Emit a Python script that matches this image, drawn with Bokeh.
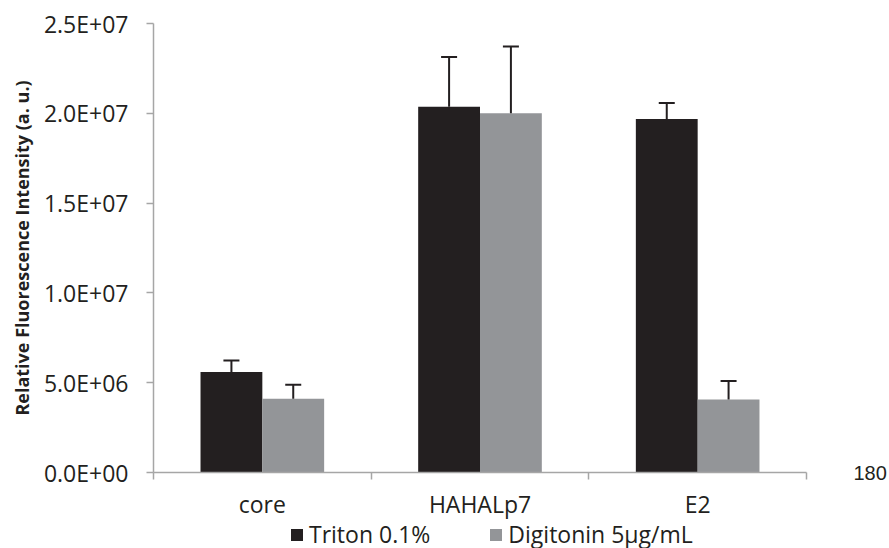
from bokeh.embed import file_html
from bokeh.layouts import column
from bokeh.models import (ColumnDataSource, CustomJSTickFormatter, FixedTicker,
                          Legend, LegendItem, LinearAxis, Range1d,
                          TeeHead, Whisker)
from bokeh.plotting import figure
from bokeh.resources import INLINE
from bokeh.transform import dodge

# ---- data -------------------------------------------------------------
categories = ["core", "HAHALp7", "E2"]
series_names = ["Triton 0.1%", "Digitonin 5\u00b5g/mL"]
triton = [5.59e6, 20.37e6, 19.68e6]
triton_err = [0.65e6, 2.76e6, 0.89e6]
digitonin = [4.11e6, 20.0e6, 4.06e6]
digitonin_err = [0.78e6, 3.72e6, 1.03e6]
y_ticks = [0, 5e6, 10e6, 15e6, 20e6, 25e6]
side_note = {0: "180"}

# ---- style ------------------------------------------------------------
FONT = "Open Sans"
DARK = "#231f20"
GREY = "#939598"
AXIS = "#a6a6a6"
BAR_W = 0.284

# each category occupies one unit on the x axis; its centre is at i + 0.5
n = len(categories)
centres = [i + 0.5 for i in range(n)]
edges = list(range(n + 1))

src = ColumnDataSource(dict(
    xc=centres,
    cat=categories,
    triton=triton,
    triton_top=[v + e for v, e in zip(triton, triton_err)],
    digitonin=digitonin,
    digitonin_top=[v + e for v, e in zip(digitonin, digitonin_err)],
))

p = figure(
    width=889, height=522,
    x_range=Range1d(0, n),
    y_range=Range1d(0, 2.5e7),
    x_axis_location=None, y_axis_location=None,
    output_backend="svg", toolbar_location=None,
    min_border_left=153, min_border_right=81,
    min_border_top=23, min_border_bottom=50,
)
p.outline_line_color = None
p.xgrid.grid_line_color = None
p.ygrid.grid_line_color = None
p.background_fill_color = "white"
p.border_fill_color = "white"

# ---- y axis -----------------------------------------------------------
yaxis = LinearAxis(
    ticker=FixedTicker(ticks=y_ticks),
    formatter=CustomJSTickFormatter(code="""
        const s = tick.toExponential(1).toUpperCase();
        return s.replace(/E([+-])(\\d)$/, 'E$10$2');
    """),
    axis_label="Relative Fluorescence Intensity (a. u.)",
)
yaxis.axis_line_color = AXIS
yaxis.axis_line_width = 1.5
yaxis.major_tick_line_color = AXIS
yaxis.major_tick_line_width = 1.5
yaxis.major_tick_out = 7
yaxis.major_tick_in = 0
yaxis.minor_tick_line_color = None
yaxis.major_label_standoff = 18
yaxis.major_label_text_font = FONT
yaxis.major_label_text_font_size = "23px"
yaxis.major_label_text_color = DARK
yaxis.axis_label_standoff = 7
yaxis.axis_label_text_font = FONT
yaxis.axis_label_text_font_size = "18px"
yaxis.axis_label_text_font_style = "bold"
yaxis.axis_label_text_color = DARK
p.add_layout(yaxis, "left")

# side note level with the x axis, on the right
note_axis = LinearAxis(ticker=FixedTicker(ticks=list(side_note)),
                       major_label_overrides=side_note)
note_axis.axis_line_color = None
note_axis.major_tick_line_color = None
note_axis.minor_tick_line_color = None
note_axis.major_label_standoff = 41
note_axis.major_label_text_font = "Liberation Sans"
note_axis.major_label_text_font_size = "20px"
note_axis.major_label_text_color = DARK
p.add_layout(note_axis, "right")

# ---- x axis: boundary ticks, then category labels ----------------------
edge_axis = LinearAxis(ticker=FixedTicker(ticks=edges))
edge_axis.axis_line_color = AXIS
edge_axis.axis_line_width = 1.5
edge_axis.major_tick_line_color = AXIS
edge_axis.major_tick_line_width = 1.5
edge_axis.major_tick_out = 7
edge_axis.major_tick_in = 0
edge_axis.minor_tick_line_color = None
edge_axis.major_label_text_font_size = "0px"
edge_axis.major_label_standoff = 0
p.add_layout(edge_axis, "below")

cat_axis = LinearAxis(
    ticker=FixedTicker(ticks=centres),
    major_label_overrides={c: name for c, name in zip(centres, categories)},
)
cat_axis.axis_line_color = None
cat_axis.major_tick_line_color = None
cat_axis.minor_tick_line_color = None
cat_axis.major_label_standoff = 2
cat_axis.major_label_text_font = FONT
cat_axis.major_label_text_font_size = "23px"
cat_axis.major_label_text_color = DARK
p.add_layout(cat_axis, "below")

# ---- bars -------------------------------------------------------------
p.vbar(x=dodge("xc", -BAR_W / 2), top="triton",
       width=BAR_W, source=src, fill_color=DARK, line_color=None)
p.vbar(x=dodge("xc", BAR_W / 2), top="digitonin",
       width=BAR_W, source=src, fill_color=GREY, line_color=None)

# ---- upper error bars --------------------------------------------------
for offset, low, high in ((-BAR_W / 2, "triton", "triton_top"),
                          (BAR_W / 2, "digitonin", "digitonin_top")):
    w = Whisker(
        source=src,
        base=dodge("xc", offset),
        lower=low, upper=high,
        line_color=DARK, line_width=2,
        lower_head=None,
        upper_head=TeeHead(size=16, line_color=DARK, line_width=2),
        level="overlay",
    )
    p.add_layout(w)

# ---- legend strip under the chart (its frame lines up with the chart's) --
leg = figure(
    width=889, height=26,
    x_range=Range1d(0, 1), y_range=Range1d(1, 2),
    x_axis_location=None, y_axis_location=None,
    output_backend="svg", toolbar_location=None,
    min_border_left=153, min_border_right=81,
    min_border_top=0, min_border_bottom=0,
)
leg.outline_line_color = None
leg.xgrid.grid_line_color = None
leg.ygrid.grid_line_color = None
# zero-height keys: they only supply the legend swatches
keys = ColumnDataSource(dict(x=[0.5], top=[0]))
k_t = leg.vbar(x="x", top="top", width=0.1, source=keys,
               fill_color=DARK, line_color=None)
k_d = leg.vbar(x="x", top="top", width=0.1, source=keys,
               fill_color=GREY, line_color=None)

legend = Legend(
    items=[LegendItem(label=series_names[0], renderers=[k_t]),
           LegendItem(label=series_names[1], renderers=[k_d])],
    orientation="horizontal",
    location=(136, -2),
    glyph_width=15, glyph_height=15,
    label_standoff=5, spacing=58,
    padding=0, margin=0,
    label_height=15,
    border_line_color=None, background_fill_alpha=0,
    label_text_font=FONT, label_text_font_size="23px",
    label_text_color=DARK,
)
leg.add_layout(legend, "center")

open("out.html", "w").write(file_html(column(p, leg, spacing=0), INLINE))
